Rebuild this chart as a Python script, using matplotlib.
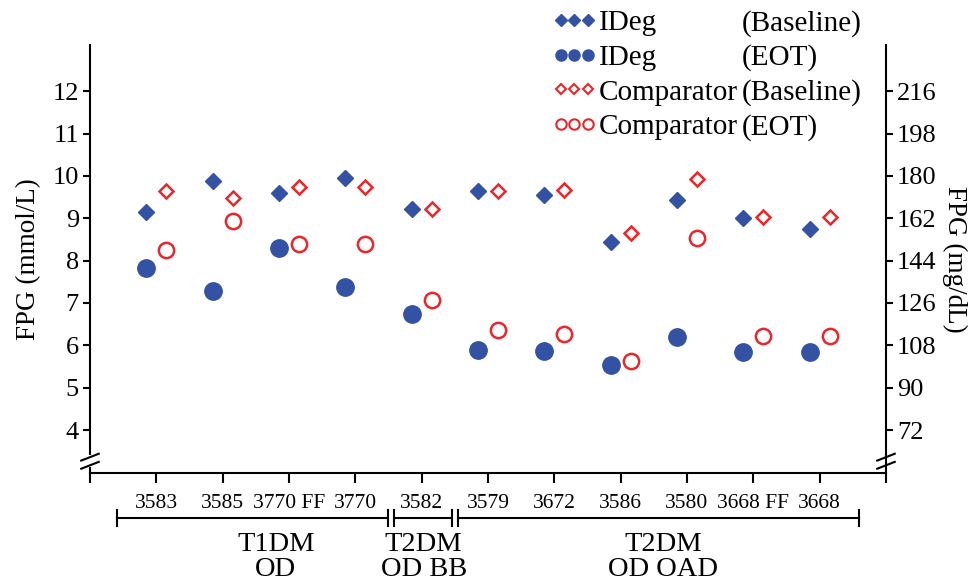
import numpy as np
import matplotlib.pyplot as plt
from matplotlib.lines import Line2D

plt.rcParams['font.family'] = ['Liberation Serif', 'DejaVu Serif']

# 数据
trials = ['3583', '3585', '3770 FF', '3770', '3582', '3579', '3672', '3586', '3580', '3668 FF', '3668']
ideg_base = [9.14, 9.89, 9.59, 9.95, 9.21, 9.65, 9.56, 8.44, 9.43, 9.00, 8.75]
ideg_eot = [7.83, 7.28, 8.29, 7.38, 6.75, 5.89, 5.86, 5.53, 6.19, 5.84, 5.84]
comp_base = [9.65, 9.48, 9.73, 9.73, 9.21, 9.65, 9.66, 8.64, 9.92, 9.03, 9.03]
comp_eot = [8.26, 8.93, 8.39, 8.39, 7.07, 6.36, 6.27, 5.64, 8.53, 6.22, 6.22]
left_ticks = [4, 5, 6, 7, 8, 9, 10, 11, 12]
right_ticks = [72, 90, 108, 126, 144, 162, 180, 198, 216]
groups = ['T1DM\nOD', 'T2DM\nOD BB', 'T2DM\nOD OAD']

blue = '#3352a4'
red = '#e8262b'

fig = plt.figure(figsize=(9.74, 5.83), dpi=100)
ax = fig.add_axes([90 / 974, 1 - 473 / 583, 796 / 974, 428 / 583])

x = np.arange(1, len(trials) + 1)
off = 0.15
ax.plot(x - off, ideg_base, 'D', color=blue, ms=8, ls='none')
ax.plot(x - off, ideg_eot, 'o', color=blue, ms=12.5, ls='none')
ax.plot(x + off, comp_base, 'D', mfc='white', mec=red, mew=1.8, ms=7.5, ls='none')
ax.plot(x + off, comp_eot, 'o', mfc='white', mec=red, mew=1.8, ms=11, ls='none')

ylo, yhi = 2.985, 13.09
ax.set_xlim(0, 12)
ax.set_ylim(ylo, yhi)
ax.set_xticks(np.arange(0, 13))
ax.set_xticklabels([''] + trials + [''], fontsize=15.5)
ax.set_yticks(left_ticks)
ax.tick_params(axis='y', labelsize=19, length=5, width=1.5, direction='out', pad=3)
ax.tick_params(axis='x', length=7, width=1.5, direction='out', pad=8)
ax.spines['top'].set_visible(False)
ax.spines['right'].set_visible(False)
for s in ['left', 'bottom']:
    ax.spines[s].set_linewidth(1.5)
ax.set_ylabel('FPG (mmol/L)', fontsize=19.5, labelpad=8)

ax2 = ax.twinx()
ax2.set_ylim(ylo * 18, yhi * 18)
ax2.set_yticks(right_ticks)
ax2.tick_params(axis='y', labelsize=19, length=5, width=1.5, direction='out', pad=3)
for s in ['top', 'left', 'bottom']:
    ax2.spines[s].set_visible(False)
ax2.spines['right'].set_linewidth(1.5)
ax2.set_ylabel('FPG (mg/dL)', fontsize=19.5, rotation=270, labelpad=22)

# 坐标轴断裂标记
for xa in [0, 1]:
    ax.plot([xa, xa], [0.018, 0.037], transform=ax.transAxes, color='white', lw=3,
            clip_on=False, zorder=5)
    for yb in [0.018, 0.037]:
        ax.plot([xa - 0.011, xa + 0.011], [yb - 0.008, yb + 0.008], transform=ax.transAxes,
                color='black', lw=1.5, clip_on=False, zorder=6)

# 分组括号
brackets = [(0.41, 4.49), (4.58, 5.46), (5.55, 11.6)]
label_x = [2.8, 5.03, 8.64]
yb = -0.105
tr = ax.get_xaxis_transform()
for (a, b), lab, lx in zip(brackets, groups, label_x):
    ax.plot([a, b], [yb, yb], transform=tr, color='black', lw=1.5, clip_on=False)
    for e in (a, b):
        ax.plot([e, e], [yb - 0.018, yb + 0.018], transform=tr, color='black', lw=1.5,
                clip_on=False)
    ax.text(lx, yb - 0.033, lab, transform=tr, ha='center', va='top', fontsize=20.5,
            linespacing=1.0)

# 图例
handles = [
    Line2D([], [], marker='D', color=blue, ls='none', ms=6),
    Line2D([], [], marker='o', color=blue, ls='none', ms=8),
    Line2D([], [], marker='D', mfc='white', mec=red, mew=1.5, ls='none', ms=5.5),
    Line2D([], [], marker='o', mfc='white', mec=red, mew=1.5, ls='none', ms=7.5),
]
names = ['IDeg', 'IDeg', 'Comparator', 'Comparator']
fs = 21
leg = fig.legend(handles, names, loc='upper left', bbox_to_anchor=(552 / 974, 1 - 10 / 583),
                 frameon=False, fontsize=fs, numpoints=3, handlelength=1.52,
                 handletextpad=0.1, labelspacing=0.28, borderpad=0, borderaxespad=0)
phases = ['(Baseline)', '(EOT)', '(Baseline)', '(EOT)']
fig.canvas.draw()
for p, t in zip(phases, leg.get_texts()):
    bb = t.get_window_extent()
    yc = (bb.y0 + bb.y1) / 2
    fig.text(742 / 974, yc / fig.bbox.height, p, fontsize=fs, va='center', ha='left')

plt.savefig('out.png', dpi=100)
